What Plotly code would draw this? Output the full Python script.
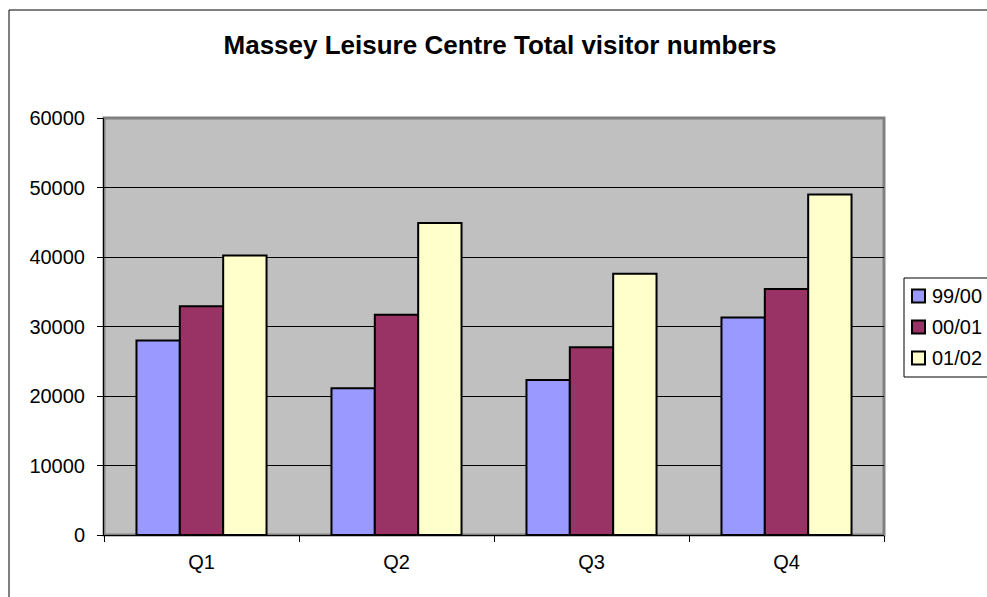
import plotly.graph_objects as go

quarters = ["Q1", "Q2", "Q3", "Q4"]
series_names = ["99/00", "00/01", "01/02"]
v9900 = [28000, 21100, 22300, 31300]
v0001 = [32900, 31700, 27000, 35400]
v0102 = [40200, 44900, 37600, 49000]
colors = ["#9999FF", "#993366", "#FFFFCC"]
y_ticks = [0, 10000, 20000, 30000, 40000, 50000, 60000]

W, H = 987, 597
# plot area in page pixels
PL, PR, PT, PB = 104, 884, 118, 535

FONT = "Liberation Sans, Arial, sans-serif"

fig = go.Figure()
for name, vals, col in zip(series_names, [v9900, v0001, v0102], colors):
    fig.add_trace(go.Bar(name=name, x=quarters, y=vals,
                         marker=dict(color=col, line=dict(color="black", width=2))))

def px(x):
    return (x - PL) / (PR - PL)

def py(y):
    return (PB - y) / (PB - PT)

shapes = [
    dict(type="rect", xref="paper", yref="paper", x0=0, x1=1, y0=0, y1=1,
         line=dict(color="#808080", width=3), layer="below"),
    dict(type="rect", xref="paper", yref="paper", x0=px(9), x1=px(1100),
         y0=py(700), y1=py(10), line=dict(color="black", width=1), layer="below"),
    # legend box
    dict(type="rect", xref="paper", yref="paper", x0=px(904), x1=px(1100),
         y0=py(377), y1=py(278), line=dict(color="black", width=1),
         fillcolor="white", layer="above"),
]
annotations = []
item_y = [296, 327, 358]
for name, col, yy in zip(series_names, colors, item_y):
    shapes.append(dict(type="rect", xref="paper", yref="paper",
                       x0=px(912), x1=px(925), y0=py(yy + 6.5), y1=py(yy - 6.5),
                       line=dict(color="black", width=2), fillcolor=col, layer="above"))
    annotations.append(dict(text=name, xref="paper", yref="paper", x=px(930), y=py(yy),
                            xanchor="left", yanchor="middle", showarrow=False,
                            font=dict(size=20, family=FONT, color="black")))

fig.update_layout(
    width=W, height=H,
    margin=dict(l=PL, r=W - PR, t=PT, b=H - PB, pad=0, autoexpand=False),
    paper_bgcolor="white", plot_bgcolor="#C0C0C0",
    barmode="group", bargap=0.333, bargroupgap=0,
    font=dict(family=FONT, size=20, color="black"),
    title=dict(text="<b>Massey Leisure Centre Total visitor numbers</b>",
               x=500 / W, xanchor="center", xref="container",
               y=1 - 45 / H, yref="container", yanchor="middle",
               font=dict(size=26, family=FONT)),
    showlegend=False,
    xaxis=dict(showline=True, linecolor="black", linewidth=1, ticks="outside",
               tickson="boundaries", ticklen=6, tickcolor="black", showgrid=False,
               tickfont=dict(size=20), ticklabelstandoff=9),
    yaxis=dict(range=[0, 60000], tickvals=y_ticks, tickformat="d",
               showline=True, linecolor="black",
               linewidth=1, ticks="outside", ticklen=6, tickcolor="black",
               gridcolor="black", gridwidth=1, zeroline=False,
               tickfont=dict(size=20), ticklabelstandoff=8),
    shapes=shapes,
    annotations=annotations,
)
fig.write_html("out.html", config={"displayModeBar": False},
               post_script="document.body.style.margin='0';document.body.style.overflow='hidden';")
